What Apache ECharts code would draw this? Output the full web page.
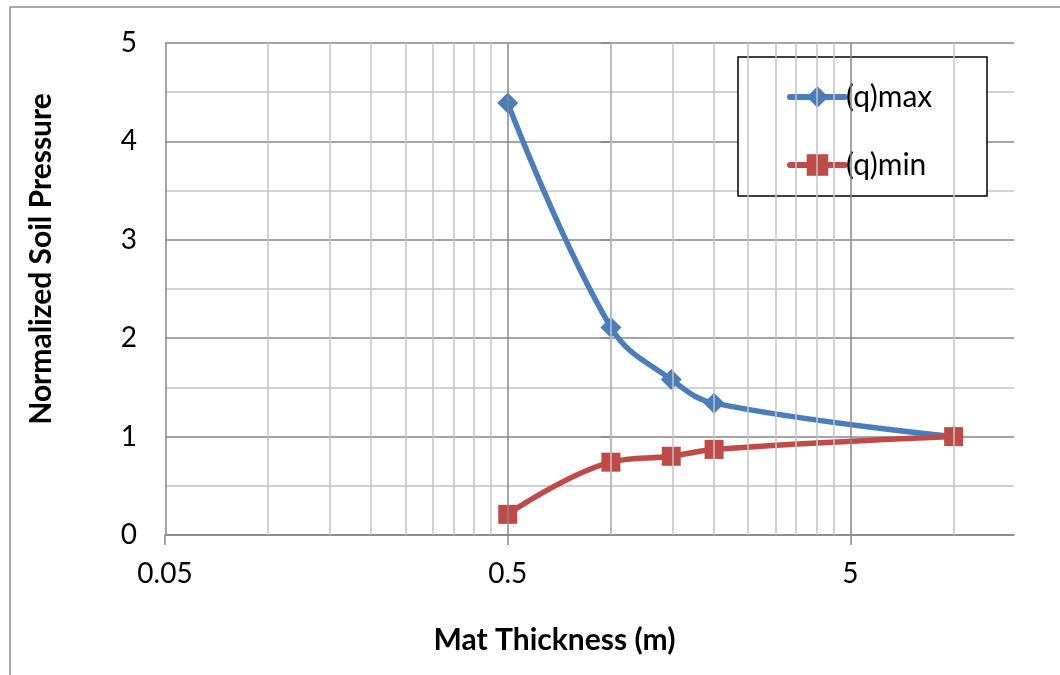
<!DOCTYPE html>
<html>
<head>
<meta charset="utf-8">
<script src="https://cdn.jsdelivr.net/npm/echarts@6/dist/echarts.min.js"></script>
<style>
  html, body { margin: 0; padding: 0; background: #fff; }
  #chart { width: 1060px; height: 675px; }
</style>
</head>
<body>
<div id="chart"></div>
<script>
// Mat thickness (m) and normalized soil pressure
const thickness = [0.5, 1, 1.5, 2, 10];
const qMax = [4.39, 2.11, 1.58, 1.34, 1.0];
const qMin = [0.21, 0.74, 0.80, 0.87, 1.0];
const seriesNames = ['(q)max', '(q)min'];
const xTickLabels = [0.05, 0.5, 5];
const xMax = 15;
const yMin = 0, yMax = 5;

const FONT = 'Lato';
const BLUE = '#4A7EBB';
const RED = '#BE4B48';
const MAJOR = '#878787';
const MINOR = '#c3c3c3';

// x is plotted on a base-10 log scale anchored at 0.05
const lg = Math.log10;
const majorX = xTickLabels.map(lg);
const minorX = [];
xTickLabels.forEach(d => {
  for (let k = 2; k <= 9; k++) {
    const v = d * k;
    if (v <= xMax + 1e-9) minorX.push(lg(v));
  }
});

const chart = echarts.init(document.getElementById('chart'), null, { renderer: 'canvas' });

const gridLines = [
  ...minorX.map(v => ({ xAxis: v, lineStyle: { color: MINOR, width: 1.5, type: 'solid' } })),
  ...majorX.map(v => ({ xAxis: v, lineStyle: { color: MAJOR, width: 1.5, type: 'solid' } }))
];

chart.setOption({
  animation: false,
  textStyle: { fontFamily: FONT },
  grid: { left: 165, right: 46, top: 43, bottom: 140, containLabel: false },
  graphic: [
    { type: 'rect', z: 0, silent: true,
      shape: { x: 10, y: 7, width: 1100, height: 700 },
      style: { fill: 'none', stroke: '#8c8c8c', lineWidth: 1.5 } },
    { type: 'rect', z: 3, silent: true,
      shape: { x: 738, y: 57, width: 249, height: 139 },
      style: { fill: '#fff', stroke: '#000', lineWidth: 1.5 } }
  ],
  legend: {
    data: seriesNames,
    orient: 'vertical',
    left: 787, top: 82,
    padding: 0,
    itemWidth: 55, itemHeight: 27, itemGap: 38,
    selectedMode: false,
    z: 5,
    lineStyle: { width: 6, cap: 'round' },
    textStyle: { fontSize: 30, fontFamily: FONT, color: '#000', padding: [0, 0, 0, -4] }
  },
  xAxis: {
    type: 'value',
    min: lg(0.05), max: lg(xMax), interval: 1,
    name: 'Mat Thickness (m)',
    nameLocation: 'middle', nameGap: 90,
    nameTextStyle: { fontSize: 30, fontWeight: 'bold', color: '#000', fontFamily: FONT,
      padding: [0, 70, 0, 0] },
    axisLine: { show: true, onZero: false, lineStyle: { color: MAJOR, width: 1.5 } },
    axisTick: { show: true, length: 10, customValues: majorX, lineStyle: { color: MAJOR, width: 1.5 } },
    axisLabel: {
      customValues: majorX,
      fontSize: 28, color: '#000', margin: 25, fontFamily: FONT,
      formatter: v => String(+Math.pow(10, v).toPrecision(3))
    },
    splitLine: { show: false }
  },
  yAxis: {
    type: 'value',
    min: yMin, max: yMax, interval: 1,
    name: 'Normalized Soil Pressure',
    nameLocation: 'middle', nameGap: 109, nameRotate: 90,
    nameTextStyle: { fontSize: 30, fontWeight: 'bold', color: '#000', fontFamily: FONT,
      padding: [0, 0, 0, 60] },
    axisLine: { show: true, lineStyle: { color: MAJOR, width: 1.5 } },
    axisTick: { show: true, length: 10, lineStyle: { color: MAJOR, width: 1.5 } },
    axisLabel: { fontSize: 28, color: '#000', margin: 28, fontFamily: FONT },
    splitLine: { show: true, lineStyle: { color: MAJOR, width: 1.5 } },
    minorTick: { show: false, splitNumber: 2 },
    minorSplitLine: { show: true, lineStyle: { color: MINOR, width: 1.5 } }
  },
  series: [
    {
      type: 'line', name: 'grid', data: [], silent: true, z: 1,
      markLine: { silent: true, symbol: 'none', label: { show: false },
        emphasis: { disabled: true }, data: gridLines }
    },
    {
      type: 'line', name: seriesNames[0],
      data: thickness.map((t, i) => [lg(t), qMax[i]]),
      smooth: 0.4, symbol: 'diamond', symbolSize: 21, z: 3,
      lineStyle: { color: BLUE, width: 5.5 },
      itemStyle: { color: BLUE }
    },
    {
      type: 'line', name: seriesNames[1],
      data: thickness.map((t, i) => [lg(t), qMin[i]]),
      smooth: 0.4, symbol: 'rect', symbolSize: 19, z: 4,
      lineStyle: { color: RED, width: 5.5 },
      itemStyle: { color: RED }
    }
  ]
});
</script>
</body>
</html>
